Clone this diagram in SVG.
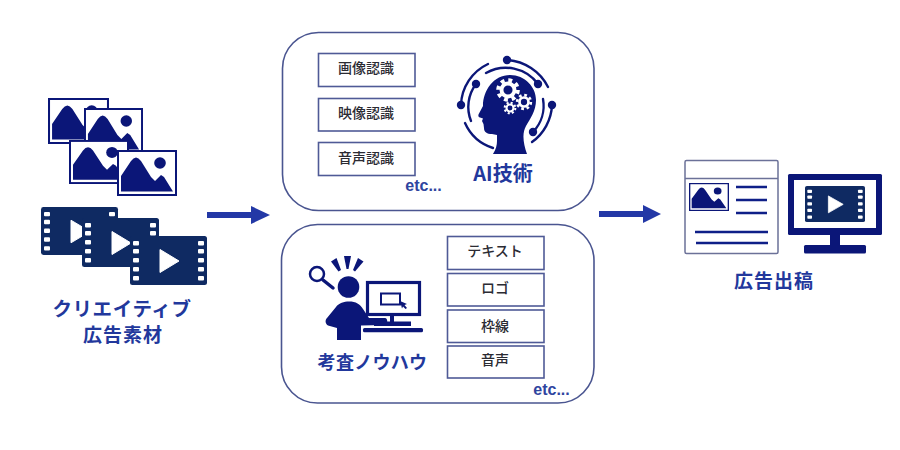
<svg xmlns="http://www.w3.org/2000/svg" xmlns:xlink="http://www.w3.org/1999/xlink" width="900" height="450" viewBox="0 0 900 450">
<style>
text{font-family:"Noto Sans CJK JP","Liberation Sans",sans-serif;text-anchor:middle}
.lbl{fill:#22389c;font-weight:700}
.item{fill:#2b2b33;font-size:14px;font-weight:500}
.etc{fill:#2f459f;font-size:16px;font-weight:700;font-family:"Liberation Sans",sans-serif}
.panel{fill:#fff;stroke:#4a5590;stroke-width:1.6}
.box{fill:#fff;stroke:#4f5a96;stroke-width:1.6}
.navy{fill:#0b1678}
.line{fill:none;stroke:#0b1678;stroke-width:2.4;stroke-linecap:round}
.ln{stroke:#0f1f88;stroke-width:2.500}
.arrow{fill:#2338a6}
</style>
<defs>
<symbol id="pic" viewBox="0 0 60 46" overflow="visible" preserveAspectRatio="none">
<rect x="1" y="1" width="58" height="44" fill="#fff" stroke="#0b1678" stroke-width="2"/>
<path class="navy" d="M4 41.500V26L14 11Q19 4 24 11L34 27 38 31 44 25 47 27 56 41.500Z"/>
<circle class="navy" cx="43" cy="13" r="5.800"/>
</symbol>
<symbol id="film" viewBox="0 0 77 49" overflow="visible" preserveAspectRatio="none">
<rect width="77" height="49" rx="2.500" fill="#0f2a62"/>
<g fill="#fff">
<rect x="3" y="5" width="6" height="4.500" rx="1"/><rect x="3" y="13" width="6" height="4.500" rx="1"/><rect x="3" y="22" width="6" height="4.500" rx="1"/><rect x="3" y="31" width="6" height="4.500" rx="1"/><rect x="3" y="40" width="6" height="4.500" rx="1"/>
<rect x="68" y="5" width="6" height="4.500" rx="1"/><rect x="68" y="13" width="6" height="4.500" rx="1"/><rect x="68" y="22" width="6" height="4.500" rx="1"/><rect x="68" y="31" width="6" height="4.500" rx="1"/><rect x="68" y="40" width="6" height="4.500" rx="1"/>
<path d="M30 13.500L49 25 30 36.500Z" stroke="#fff" stroke-linejoin="round"/>
</g>
</symbol>
<symbol id="gear" viewBox="-10 -10 20 20" overflow="visible">
<circle r="7.600" fill="none" stroke="#fff" stroke-width="3" stroke-dasharray="3 2.970"/>
<circle r="5" fill="none" stroke="#fff" stroke-width="3"/>
</symbol>
</defs>

<g id="connectors">
<path class="arrow" d="M207 212H251V206L270 215 251 224V218H207Z"/>
<path class="arrow" d="M599 211H643V205L661 214 643 223V217H599Z"/>
</g>

<g id="node-source">
<use xlink:href="#pic" href="#pic" x="48" y="98" width="61" height="46"/>
<use xlink:href="#pic" href="#pic" x="84" y="108" width="59" height="46"/>
<use xlink:href="#pic" href="#pic" x="69" y="140" width="60" height="44"/>
<use xlink:href="#pic" href="#pic" x="117" y="150" width="60" height="46"/>
<use xlink:href="#film" href="#film" x="41" y="207" width="77" height="48"/>
<use xlink:href="#film" href="#film" x="82" y="218" width="77" height="49"/>
<use xlink:href="#film" href="#film" x="130" y="236" width="77" height="49"/>
<text class="lbl" x="122" y="316" font-size="19.500" letter-spacing=".6">クリエイティブ</text>
<text class="lbl" x="123" y="342" font-size="19" letter-spacing="1">広告素材</text>
</g>

<g id="node-ai">
<rect class="panel" x="282.500" y="32.500" width="311.500" height="178" rx="36"/>
<rect class="box" x="318.500" y="53.500" width="96.500" height="33"/>
<rect class="box" x="318.500" y="98.500" width="96.500" height="32.500"/>
<rect class="box" x="318.500" y="142.500" width="96.500" height="33"/>
<text class="item" x="366" y="73">画像認識</text>
<text class="item" x="366" y="118">映像認識</text>
<text class="item" x="366" y="163">音声認識</text>
<text class="etc" x="423.500" y="191">etc...</text>
<path class="navy" d="M493 154C496 149 497 145 497 141V135L492 134C487 134 484 132 484 128L483.500 124 482 121 483 118.500 480 117.500C478 117 478 115 479 113.500L483 106C483 90 494 75 510 75C525 75 536 87 536 100C536 111 530 119 526 126C522 133 523 143 527 154Z"/>
<use xlink:href="#gear" href="#gear" x="495" y="77" width="26" height="26"/>
<use xlink:href="#gear" href="#gear" x="515" y="93" width="18" height="18"/>
<use xlink:href="#gear" href="#gear" x="503" y="101" width="14" height="14"/>
<g class="line">
<path d="M461 105A47 47 0 0 1 488 64"/>
<path d="M507 60A50 50 0 0 1 548 87"/>
<path d="M486 73A40 40 0 0 1 538 84"/>
<path d="M476 84A38 38 0 0 0 471 121"/>
<path d="M465 123A46 46 0 0 0 493 148"/>
<path d="M543 99A38 38 0 0 1 533 132"/>
<path d="M552 105A48 48 0 0 1 532 142"/>
</g>
<g class="navy">
<circle cx="507" cy="60" r="4.200"/><circle cx="538" cy="84" r="4.200"/><circle cx="476" cy="84" r="4.200"/>
<circle cx="461" cy="105" r="4.200"/><circle cx="552" cy="105" r="4.200"/><circle cx="533" cy="132" r="4.200"/>
</g>
<text class="lbl" x="503" y="181" font-size="20">AI技術</text>
</g>

<g id="node-knowhow">
<rect class="panel" x="281.500" y="224.500" width="312.500" height="178.500" rx="36"/>
<rect class="box" x="447.500" y="236.500" width="96.500" height="33"/>
<rect class="box" x="447.500" y="273.500" width="96.500" height="32.500"/>
<rect class="box" x="447.500" y="310" width="96.500" height="32.500"/>
<rect class="box" x="447.500" y="346" width="96.500" height="32"/>
<text class="item" x="495" y="256" font-weight="700">テキスト</text>
<text class="item" x="495" y="293">ロゴ</text>
<text class="item" x="495" y="331">枠線</text>
<text class="item" x="495" y="365">音声</text>
<text class="etc" x="551.500" y="395">etc...</text>
<circle cx="317" cy="274" r="7" fill="#fff" stroke="#0b1678" stroke-width="2.500"/>
<path d="M323 280L333 288" stroke="#0b1678" stroke-width="3.500" stroke-linecap="round"/>
<path class="navy" d="M331 261.500L336.500 258 341 270 338.500 271.500Z"/>
<path class="navy" d="M344 256H351L348.500 269H346.500Z"/>
<path class="navy" d="M358 258L363.500 261.500 355 271.500 353 270Z"/>
<circle class="navy" cx="348.500" cy="287" r="10.800"/>
<path class="navy" d="M337 340V328L328 325.500C325 323.500 325 320 327 318L336 307C339 303 344 301.500 349 301.500C356 301.500 360 304 363 309L369 318H385C388 318 388 325 385 325L361 325.500V340Z"/>
<rect x="367.500" y="282.500" width="52" height="32" fill="#fff" stroke="#0b1678" stroke-width="3.200"/>
<rect x="381" y="293.500" width="19" height="11" fill="none" stroke="#0b1678" stroke-width="2"/>
<path class="navy" d="M400 301L407 304 404.500 305 407 308 405.500 309 403 306.500 402 308.500Z"/>
<rect class="navy" x="390" y="315" width="4" height="8"/>
<rect class="navy" x="374" y="321.500" width="37" height="4.500"/>
<rect class="navy" x="363" y="328" width="60" height="4.200" rx="1.500"/>
<text class="lbl" x="372.500" y="368.500" font-size="18" letter-spacing=".3">考査ノウハウ</text>
</g>

<g id="node-publish">
<rect x="685" y="160.500" width="93" height="93" rx="1.500" fill="#fff" stroke="#6b7198" stroke-width="1.500"/>
<path d="M685 178.500H778" stroke="#6b7198" stroke-width="1.500"/>
<use xlink:href="#pic" href="#pic" x="689" y="183" width="40" height="28"/>
<path class="ln" d="M736 187H767M736 200H767M736 213H767M695 232H768M696 243H768"/>
<rect class="navy" x="788" y="174" width="94" height="61" rx="1.500"/>
<rect x="794" y="180" width="82" height="48" fill="#fff"/>
<use xlink:href="#film" href="#film" x="805" y="186" width="60" height="36"/>
<rect class="navy" x="830" y="235" width="10" height="11"/>
<rect class="navy" x="804" y="245" width="62" height="8.500" rx="1.500"/>
<text class="lbl" x="774" y="288" font-size="19" letter-spacing="1">広告出稿</text>
</g>
</svg>
